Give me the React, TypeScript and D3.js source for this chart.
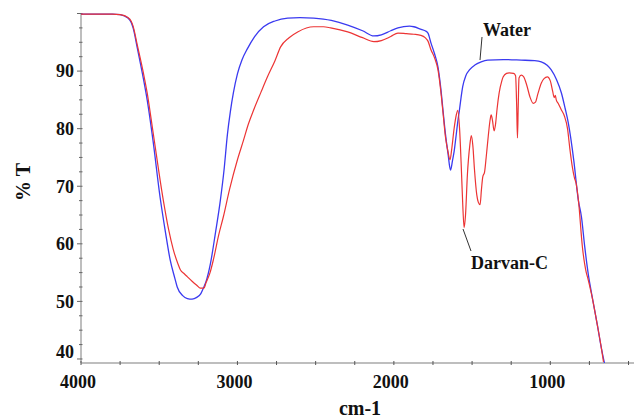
import React from 'react';
import * as d3 from 'd3';

// FTIR spectra, wavenumber (cm-1) vs %T
const waterWn = [4000, 3800, 3750, 3700, 3680, 3667, 3640, 3600, 3577, 3540, 3494, 3460, 3430, 3400, 3385, 3350, 3320, 3290, 3260, 3235, 3218, 3200, 3173, 3140, 3109, 3085, 3064, 3045, 3026, 3000, 2970, 2936, 2890, 2833, 2760, 2679, 2600, 2513, 2400, 2295, 2200, 2128, 2080, 2020, 1974, 1900, 1872, 1830, 1800, 1782, 1763, 1740, 1718, 1700, 1686, 1670, 1654, 1638, 1625, 1615, 1603, 1590, 1581, 1570, 1560, 1540, 1517, 1480, 1442, 1400, 1300, 1186, 1100, 1058, 1020, 994, 960, 929, 905, 885, 850, 821, 801, 780, 756, 737, 700, 673, 654];
const waterT = [99.9, 99.9, 99.8, 99.2, 98.5, 97.5, 94, 88.5, 85, 78, 68, 62, 57.2, 54, 52.5, 51, 50.5, 50.4, 50.7, 51.3, 52.3, 53.5, 56.5, 62, 67.6, 73, 79, 83, 86.2, 89.5, 92, 93.9, 96, 97.7, 98.7, 99.2, 99.3, 99.2, 98.8, 98, 97, 96.1, 96.3, 97, 97.5, 97.8, 97.7, 97.3, 97, 96.6, 94.9, 93, 90.7, 87, 83.2, 79, 75.7, 72.8, 74.5, 76, 78.6, 81.5, 83.2, 85.5, 87.3, 89.2, 90.2, 91.1, 91.6, 91.9, 92, 91.9, 91.8, 91.6, 91, 90.2, 88.5, 86.2, 83.5, 81, 74.5, 67.6, 64.7, 59.5, 54.5, 51.5, 46, 41.8, 39.3];

const darvanWn = [4000, 3800, 3750, 3700, 3680, 3667, 3640, 3600, 3577, 3540, 3474, 3440, 3410, 3380, 3365, 3340, 3321, 3290, 3260, 3237, 3215, 3200, 3175, 3154, 3120, 3090, 3050, 3000, 2961, 2930, 2897, 2850, 2808, 2760, 2724, 2670, 2615, 2513, 2450, 2404, 2295, 2200, 2128, 2080, 2020, 1974, 1920, 1872, 1827, 1800, 1782, 1763, 1740, 1718, 1700, 1686, 1670, 1654, 1641, 1630, 1615, 1600, 1592, 1580, 1570, 1560, 1551, 1542, 1530, 1515, 1505, 1495, 1485, 1470, 1460, 1449, 1440, 1432, 1420, 1410, 1397, 1385, 1378, 1370, 1359, 1350, 1340, 1327, 1310, 1301, 1280, 1263, 1235, 1222, 1215, 1210, 1205, 1200, 1186, 1170, 1150, 1130, 1109, 1095, 1080, 1058, 1040, 1019, 1000, 985, 975, 968, 962, 950, 930, 910, 890, 875, 860, 846, 835, 820, 795, 770, 760, 737, 700, 673, 660];
const darvanT = [99.9, 99.9, 99.8, 99.3, 98.7, 97.8, 94.5, 89.5, 86.2, 79.5, 67.6, 62.5, 59, 56.5, 55.5, 54.8, 54.3, 53.5, 52.8, 52.3, 52.3, 53.3, 55, 57.2, 61.5, 64.7, 69.5, 74.6, 78, 80.8, 83.2, 86.3, 89, 91.8, 94.2, 95.8, 96.8, 97.7, 97.7, 97.5, 96.8, 95.8, 95.1, 95.3, 96, 96.6, 96.5, 96.4, 96.2, 95.8, 95.2, 93.7, 92.3, 90.2, 86.5, 82.8, 78.5, 76, 74.6, 76.5, 80, 82.5, 83.2, 80, 74, 67, 62.8, 65, 72, 77, 78.8, 77, 73, 68.5, 67.2, 66.8, 69.5, 71.6, 72.5, 75, 78.6, 81.5, 82.4, 81.5, 79.6, 80.8, 83.5, 86.2, 88.3, 89, 89.6, 89.7, 89.6, 89.2, 84, 78.4, 84, 88.8, 89.3, 89, 87.5, 85.5, 84.4, 84.6, 86, 87.9, 88.7, 89, 88.3, 86.5, 85.4, 85.8, 85, 84.4, 83.3, 82.2, 80, 76.5, 73.5, 71.5, 70.5, 67.5, 59.5, 55, 54, 51.3, 46, 41.8, 39.5];

const yTickLabels = [40, 50, 60, 70, 80, 90];
const xTickLabels = [4000, 3000, 2000, 1000];

const W = 634;
const H = 418;
const font = '"Liberation Serif", "Times New Roman", serif';

const App: React.FC = () => {
  const x = d3.scaleLinear().domain([4000, 465]).range([81, 634]);
  const y = d3.scaleLinear().domain([39.3, 100]).range([363, 13.5]);

  const line = d3
    .line<[number, number]>()
    .x(d => x(d[0]))
    .y(d => y(d[1]))
    .curve(d3.curveMonotoneX);

  const water = line(waterWn.map((w, i) => [w, waterT[i]]) as [number, number][]) || '';
  const darvan = line(darvanWn.map((w, i) => [w, darvanT[i]]) as [number, number][]) || '';

  const yTicks = d3.range(40, 100.01, 2.5);
  const xTicks = d3.range(4000, 499, -250);

  return (
    <svg width={W} height={H} style={{ position: 'absolute', left: 0, top: 0, background: '#fff' }}>
      {/* axes */}
      <line x1={x(4000)} x2={x(4000)} y1={y(100)} y2={y(39.3)} stroke="#a8a8a8" strokeWidth={1.5} />
      <line x1={x(4000)} x2={W} y1={y(39.3)} y2={y(39.3)} stroke="#a8a8a8" strokeWidth={1.5} />
      {yTicks.map(t => (
        <line key={'yt' + t} x1={x(4000) - (t % 10 === 0 ? 4 : 2)} x2={x(4000) + 1.5} y1={y(t)} y2={y(t)} stroke="#666" strokeWidth={1} />
      ))}
      {xTicks.map(t => (
        <line key={'xt' + t} x1={x(t)} x2={x(t)} y1={y(39.3) - 2} y2={y(39.3) + 2} stroke="#555" strokeWidth={1} />
      ))}
      {yTickLabels.map(t => (
        <text key={'yl' + t} x={74} y={t === 40 ? y(t) - 7 : y(t)} dy="0.35em" textAnchor="end"
          fontFamily={font} fontWeight="bold" fontSize={18} fill="#111">{t}</text>
      ))}
      {xTickLabels.map(t => (
        <text key={'xl' + t} x={x(t) - 3} y={388} textAnchor="middle"
          fontFamily={font} fontWeight="bold" fontSize={18} fill="#111">{t}</text>
      ))}
      <text x={360} y={415} textAnchor="middle" fontFamily={font} fontWeight="bold" fontSize={20} fill="#111">cm-1</text>
      <text transform="translate(23,182) rotate(-90)" textAnchor="middle" dy="0.35em"
        fontFamily={font} fontWeight="bold" fontSize={20} fill="#111">% T</text>

      {/* spectra */}
      <path d={water} fill="none" stroke="#3a3af0" strokeWidth={1.3} />
      <path d={darvan} fill="none" stroke="#ec3434" strokeWidth={1.2} />

      {/* annotations */}
      <line x1={482} y1={37} x2={480} y2={60} stroke="#333" strokeWidth={1} />
      <text x={483} y={36} fontFamily={font} fontWeight="bold" fontSize={18} fill="#111">Water</text>
      <line x1={463} y1={229} x2={471} y2={251} stroke="#333" strokeWidth={1} />
      <text x={471} y={269} fontFamily={font} fontWeight="bold" fontSize={18} fill="#111">Darvan-C</text>
    </svg>
  );
};

export default App;
